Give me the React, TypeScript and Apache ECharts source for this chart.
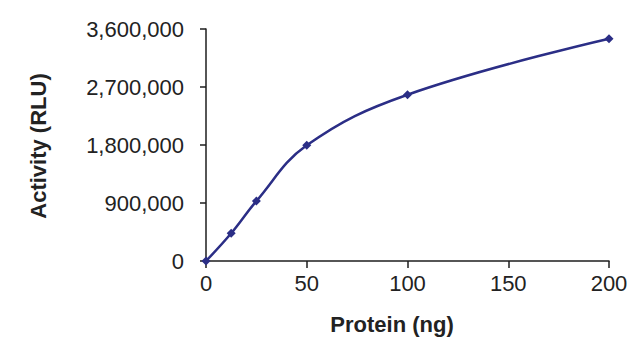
import React, { useEffect, useRef } from "react";
import * as echarts from "echarts";

const proteinNg = [0, 12.5, 25, 50, 100, 200];
const activityRLU = [0, 430000, 930000, 1795000, 2580000, 3450000];
const xTicks = [0, 50, 100, 150, 200];
const yTicks = [0, 900000, 1800000, 2700000, 3600000];
const xTitle = "Protein (ng)";
const yTitle = "Activity (RLU)";

const FONT = "'Liberation Sans', Arial, sans-serif";
const AXIS_COLOR = "#1e1e1e";
const LINE_COLOR = "#2b2e86";

export default function App() {
  const ref = useRef<HTMLDivElement>(null);
  useEffect(() => {
    if (!ref.current) return;
    const chart = echarts.init(ref.current, undefined, { renderer: "svg" });
    chart.setOption({
      animation: false,
      backgroundColor: "#ffffff",
      grid: { left: 206, right: 31, top: 29, bottom: 90 },
      xAxis: {
        type: "value",
        min: xTicks[0],
        max: xTicks[xTicks.length - 1],
        interval: xTicks[1] - xTicks[0],
        splitLine: { show: false },
        axisLine: { show: true, lineStyle: { color: AXIS_COLOR, width: 1.5 } },
        axisTick: { show: true, inside: false, length: 7, lineStyle: { color: AXIS_COLOR, width: 1.5 } },
        axisLabel: { color: "#222", fontSize: 22, fontFamily: FONT, margin: 11 },
      },
      yAxis: {
        type: "value",
        min: yTicks[0],
        max: yTicks[yTicks.length - 1],
        interval: yTicks[1] - yTicks[0],
        splitLine: { show: false },
        axisLine: { show: true, lineStyle: { color: AXIS_COLOR, width: 1.5 } },
        axisTick: { show: true, inside: false, length: 6, lineStyle: { color: AXIS_COLOR, width: 1.5 } },
        axisLabel: {
          color: "#222",
          fontSize: 22,
          fontFamily: FONT,
          margin: 22,
          formatter: (v: number) => v.toLocaleString("en-US"),
        },
      },
      series: [
        {
          type: "line",
          data: proteinNg.map((x, i) => [x, activityRLU[i]]),
          smooth: 0.4,
          symbol: "diamond",
          symbolSize: 9,
          lineStyle: { color: LINE_COLOR, width: 2.5 },
          itemStyle: { color: LINE_COLOR },
        },
      ],
      graphic: [
        {
          type: "text",
          x: 392,
          y: 324,
          style: {
            text: xTitle,
            font: `bold 22px ${FONT}`,
            fill: "#222",
            align: "center",
            verticalAlign: "middle",
          },
        },
        {
          type: "text",
          x: 38,
          y: 146,
          rotation: Math.PI / 2,
          style: {
            text: yTitle,
            font: `bold 22px ${FONT}`,
            fill: "#222",
            align: "center",
            verticalAlign: "middle",
          },
        },
      ],
    });
    return () => chart.dispose();
  }, []);
  return <div ref={ref} style={{ width: 640, height: 351, position: "absolute", left: 0, top: 0 }} />;
}
